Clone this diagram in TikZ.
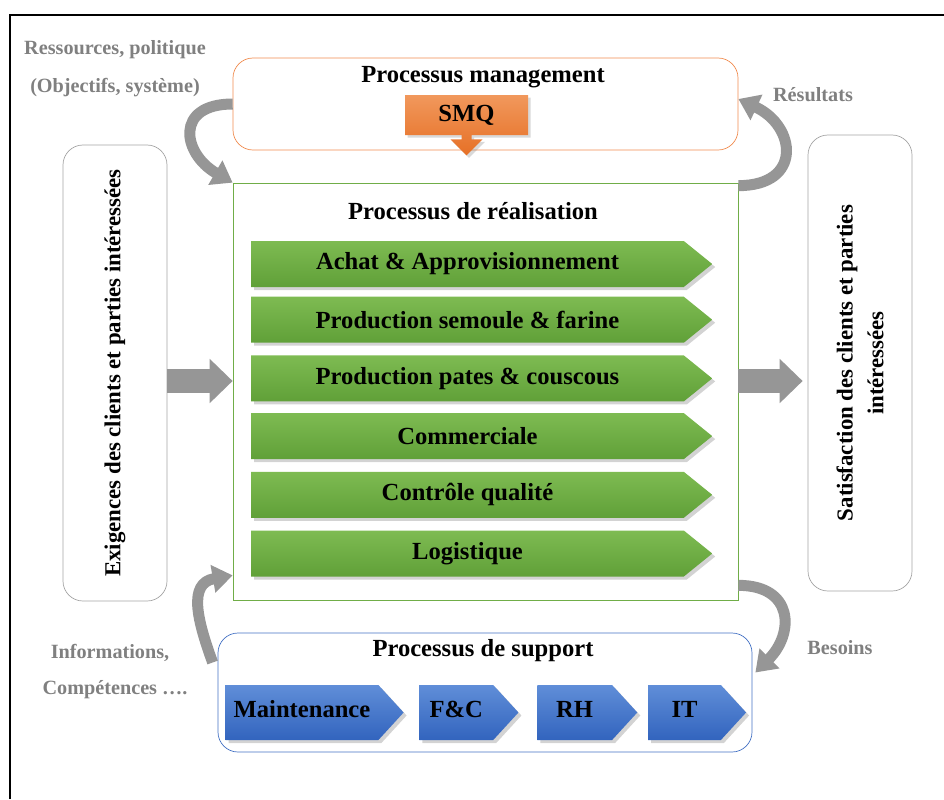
\documentclass[tikz,border=0pt]{standalone}
\usepackage{fontspec}
\setmainfont{Liberation Serif}
\usepackage{xcolor}
\usetikzlibrary{shapes.arrows, shapes.symbols, shadows, arrows.meta, positioning}

\definecolor{greenTop}{RGB}{126,187,82}
\definecolor{greenBot}{RGB}{96,160,56}
\definecolor{blueTop}{RGB}{96,142,216}
\definecolor{blueBot}{RGB}{50,100,190}
\definecolor{orangeTop}{RGB}{241,152,92}
\definecolor{orangeBot}{RGB}{230,112,38}
\definecolor{orangeLine}{RGB}{240,140,80}
\definecolor{greenLine}{RGB}{112,173,71}
\definecolor{blueLine}{RGB}{68,114,196}
\definecolor{boxLine}{RGB}{165,165,165}
\definecolor{labelGray}{RGB}{128,128,128}
\definecolor{arrowGray}{RGB}{150,150,150}

\begin{document}
\begin{tikzpicture}[x=0.2mm, y=0.2mm,
title/.style={font=\fontsize{14}{16}\selectfont\bfseries},
glabel/.style={text=labelGray, font=\fontsize{11.5}{13}\selectfont\bfseries},
sidebox/.style={draw=boxLine, rounded corners=4mm, rotate=90, align=center,
  minimum width=91.2mm, minimum height=20.8mm,
  font=\fontsize{13}{17.5}\selectfont\bfseries},
realstep/.style={signal, signal to=east, signal pointer angle=78, inner sep=0pt,
  top color=greenTop, bottom color=greenBot, minimum width=92.2mm, minimum height=9.2mm,
  drop shadow={opacity=0.35, shadow xshift=0.6mm, shadow yshift=-0.6mm}, title},
supstep/.style={signal, signal to=east, signal pointer angle=95, inner sep=0pt,
  top color=blueTop, bottom color=blueBot, minimum height=11mm, text depth=1.4mm,
  drop shadow={opacity=0.35, shadow xshift=0.6mm, shadow yshift=-0.6mm}, title},
bigarrow/.style={arrowGray, line width=4.8mm, -{Triangle[length=4.6mm, width=8.6mm]}},
curvearrow/.style={arrowGray, line width=2.2mm, -{Triangle[length=4mm, width=5.4mm]}}
]
\useasboundingbox (0,0) rectangle (944,-799);

% The frame
\draw[line width=1.6pt] (10,-799) -- (10,-15) -- (944,-15);

% The main boxes
\node[draw=orangeLine, rounded corners=4mm, minimum width=101mm, minimum height=18.4mm] (mgmt) at (485.5,-104) {};
\node[title] (mgmttitle) at (483,-77) {Processus management};
\node[arrow box, arrow box arrows={south:4mm from border}, arrow box shaft width=2mm,
  arrow box head extend=2.2mm, top color=orangeTop, bottom color=orangeBot,
  minimum width=24.6mm, minimum height=8mm, title,
  drop shadow={opacity=0.3, shadow xshift=0.5mm, shadow yshift=-0.5mm}] (smq) at (466.5,-115) {SMQ};

\node[draw=greenLine, minimum width=101mm, minimum height=83.4mm] (real) at (485.5,-391.5) {};
\node[title] (realtitle) at (473,-211) {Processus de réalisation};

\node[draw=blueLine, rounded corners=4mm, minimum width=106.8mm, minimum height=23.8mm] (support) at (485,-692.5) {};
\node[title] (suptitle) at (483,-651) {Processus de support};

\node[sidebox] (exig) at (115,-373) {Exigences des clients et parties intéressées};
\node[sidebox] (sat) at (860,-363) {Satisfaction des clients et parties\\intéressées};

% The realisation steps
\node[realstep] (achat) at (467.5,-264) {Achat \& Approvisionnement};
\node[realstep, below=1.8mm of achat] (semoule) {Production semoule \& farine};
\node[realstep, below=2.4mm of semoule] (pates) {Production pates \& couscous};
\node[realstep, below=2.2mm of pates] (commercial) {Commerciale};
\node[realstep, below=2.4mm of commercial] (controle) {Contrôle qualité};
\node[realstep, below=2.4mm of controle] (logistique) {Logistique};

% The support steps
\node[supstep, minimum width=35.6mm] (maint) at (302,-712.5) {Maintenance};
\node[supstep, minimum width=19.8mm, right=3mm of maint] (fc) {F\&C};
\node[supstep, minimum width=20mm, right=3.6mm of fc] (rh) {RH};
\node[supstep, minimum width=19.6mm, right=2mm of rh] (it) {IT};

% The arrows
\draw[bigarrow] ([yshift=-1.6mm]exig.south) -- ([yshift=-1.6mm]exig.south -| real.west);
\draw[bigarrow, shorten >=1mm] ([yshift=-3.6mm]sat.north -| real.east) -- ([yshift=-3.6mm]sat.north);
\draw[curvearrow] (mgmt.west) to[out=180, in=150, looseness=1.9] (real.north west);
\draw[curvearrow] ([yshift=-0.6mm]real.north east) to[out=0, in=-25, looseness=1.9] ([yshift=1mm]mgmt.east);
\draw[curvearrow] ([xshift=-1mm, yshift=6mm]support.west) to[out=110, in=190, looseness=1.3] ([yshift=5mm]real.south west);
\draw[curvearrow] ([yshift=3mm]real.south east) to[out=0, in=45, looseness=1.6] ([xshift=0.6mm, yshift=4mm]support.east);

% The labels
\node[glabel] (ressources) at (115,-50) {Ressources, politique};
\node[glabel] (objectifs) at (115,-88) {(Objectifs, système)};
\node[glabel] (resultats) at (813,-95) {Résultats};
\node[glabel] (informations) at (110,-653) {Informations,};
\node[glabel] (competences) at (115,-690) {Compétences ….};
\node[glabel] (besoins) at (840,-648) {Besoins};
\end{tikzpicture}
\end{document}
